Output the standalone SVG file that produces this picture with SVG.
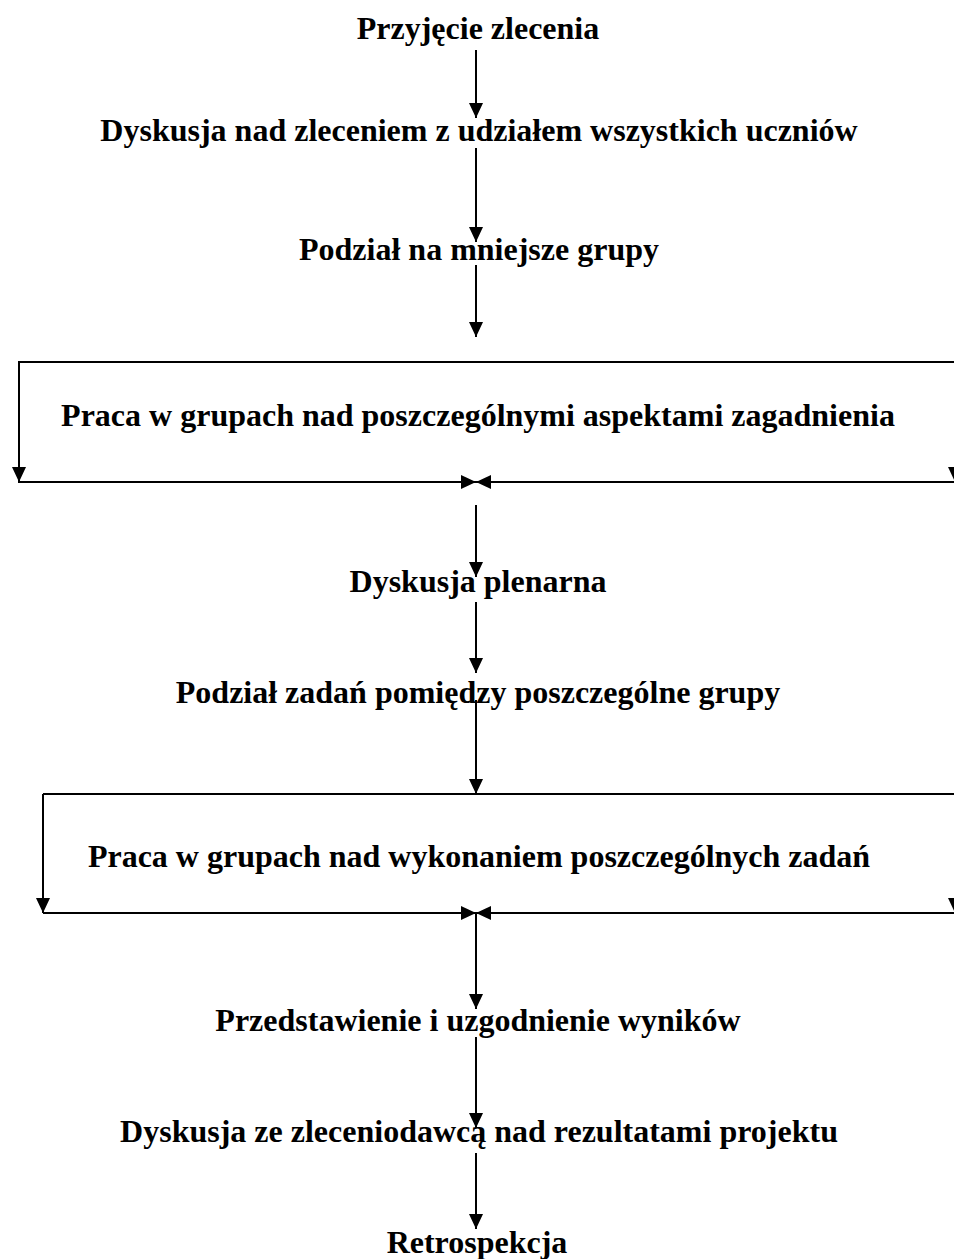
<svg xmlns="http://www.w3.org/2000/svg" width="954" height="1259" viewBox="0 0 954 1259">
<style>
  text { font-family: "Liberation Serif", "Times New Roman", serif; font-weight: bold; font-size: 32px; fill: #000; text-anchor: middle; }
  .c { stroke: #000; stroke-width: 2; fill: none; }
  .ca { stroke: #000; stroke-width: 2; fill: none; marker-end: url(#ah); }
</style>
<defs>
  <marker id="ah" viewBox="0 0 15 14" refX="15" refY="7" markerWidth="15" markerHeight="14" orient="auto" markerUnits="userSpaceOnUse">
    <path d="M0,0 L15,7 L0,14 z" fill="#000"/>
  </marker>
</defs>
<rect width="954" height="1259" fill="#fff"/>
<g id="connectors">
  <line class="ca" x1="476" y1="50" x2="476" y2="118"/>
  <line class="ca" x1="476" y1="148" x2="476" y2="242"/>
  <line class="ca" x1="476" y1="265" x2="476" y2="337"/>
  <line class="c" x1="18" y1="362" x2="956" y2="362"/>
  <line class="ca" x1="19" y1="362" x2="19" y2="482"/>
  <line class="ca" x1="955" y1="362" x2="955" y2="482"/>
  <line class="ca" x1="18" y1="482" x2="476" y2="482"/>
  <line class="ca" x1="956" y1="482" x2="476" y2="482"/>
  <line class="ca" x1="476" y1="505" x2="476" y2="577"/>
  <line class="ca" x1="476" y1="602" x2="476" y2="673"/>
  <line class="ca" x1="476" y1="700" x2="476" y2="794"/>
  <line class="c" x1="43" y1="794" x2="956" y2="794"/>
  <line class="ca" x1="43" y1="794" x2="43" y2="913"/>
  <line class="ca" x1="955" y1="794" x2="955" y2="913"/>
  <line class="ca" x1="43" y1="913" x2="476" y2="913"/>
  <line class="ca" x1="956" y1="913" x2="476" y2="913"/>
  <line class="ca" x1="476" y1="914" x2="476" y2="1009"/>
  <line class="ca" x1="476" y1="1037" x2="476" y2="1128"/>
  <line class="ca" x1="476" y1="1153" x2="476" y2="1229"/>
</g>
<g id="n1"><text x="478" y="39">Przyjęcie zlecenia</text></g>
<g id="n2"><text x="479" y="141">Dyskusja nad zleceniem z udziałem wszystkich uczniów</text></g>
<g id="n3"><text x="479" y="260">Podział na mniejsze grupy</text></g>
<g id="n4"><text x="478" y="426">Praca w grupach nad poszczególnymi aspektami zagadnienia</text></g>
<g id="n5"><text x="478" y="592">Dyskusja plenarna</text></g>
<g id="n6"><text x="478" y="703">Podział zadań pomiędzy poszczególne grupy</text></g>
<g id="n7"><text x="479" y="867">Praca w grupach nad wykonaniem poszczególnych zadań</text></g>
<g id="n8"><text x="478" y="1031">Przedstawienie i uzgodnienie wyników</text></g>
<g id="n9"><text x="479" y="1142">Dyskusja ze zleceniodawcą nad rezultatami projektu</text></g>
<g id="n10"><text x="477" y="1253">Retrospekcja</text></g>
</svg>
